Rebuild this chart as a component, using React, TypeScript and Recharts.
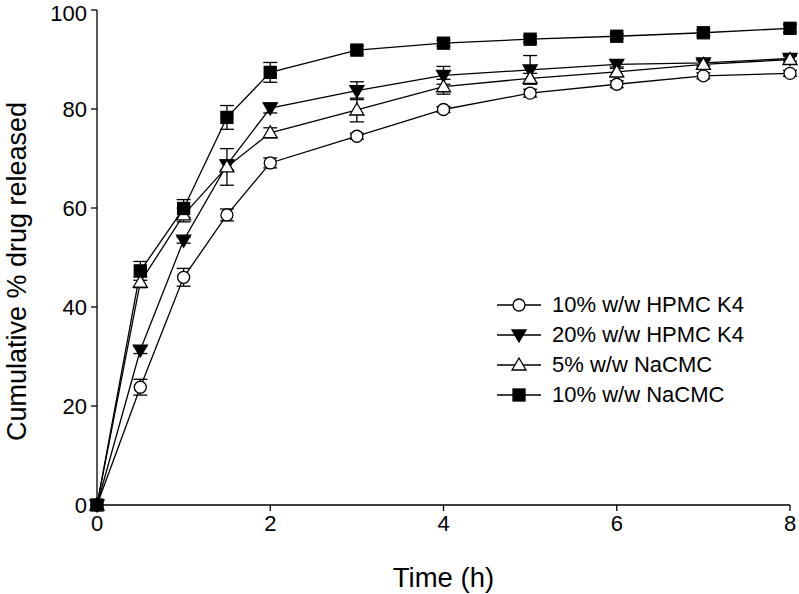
import React from 'react';
import { LineChart, Line, XAxis, YAxis, ErrorBar, Legend, Label } from 'recharts';

const times = [0, 0.5, 1, 1.5, 2, 3, 4, 5, 6, 7, 8];
const seriesNames = ['10% w/w HPMC K4', '20% w/w HPMC K4', '5% w/w NaCMC', '10% w/w NaCMC'];
const hpmc10 = [0, 23.8, 46.0, 58.6, 69.1, 74.5, 79.9, 83.2, 85.0, 86.7, 87.2];
const hpmc10Err = [0, 1.6, 1.8, 1.2, 1.0, 0.6, 0.6, 0.8, 0.7, 0.6, 0.6];
const hpmc20 = [0, 31.3, 53.5, 68.7, 80.2, 83.7, 86.8, 87.9, 89.0, 89.3, 90.2];
const hpmc20Err = [0, 0.7, 0.6, 1.0, 1.0, 1.8, 1.8, 2.9, 0.8, 0.6, 0.5];
const naCmc5 = [0, 45.0, 58.6, 68.3, 75.2, 79.8, 84.5, 86.2, 87.5, 89.0, 90.0];
const naCmc5Err = [0, 1.1, 1.4, 3.7, 1.0, 2.4, 1.5, 1.0, 1.0, 0.8, 0.8];
const naCmc10 = [0, 47.3, 59.9, 78.3, 87.4, 91.9, 93.3, 94.1, 94.7, 95.4, 96.3];
const naCmc10Err = [0, 1.9, 1.8, 2.4, 2.0, 0.8, 0.6, 0.6, 0.5, 0.6, 0.8];
const xTicks = [0, 2, 4, 6, 8];
const yTicks = [0, 20, 40, 60, 80, 100];
const xTitle = 'Time (h)';
const yTitle = 'Cumulative % drug released';

const data = times.map((t, i) => ({
  t,
  a: hpmc10[i], aErr: hpmc10Err[i],
  b: hpmc20[i], bErr: hpmc20Err[i],
  c: naCmc5[i], cErr: naCmc5Err[i],
  d: naCmc10[i], dErr: naCmc10Err[i],
}));

const FONT = '"Liberation Sans", Arial, sans-serif';
const SW = 1.3;

function Marker({ kind, cx, cy }: { kind: string; cx: number; cy: number }) {
  if (kind === 'circle') {
    return <circle cx={cx} cy={cy} r={6} fill="#fff" stroke="#000" strokeWidth={SW} />;
  }
  if (kind === 'down') {
    return (
      <polygon
        points={`${cx - 7},${cy - 5} ${cx + 7},${cy - 5} ${cx},${cy + 7}`}
        fill="#000" stroke="#000" strokeWidth={SW}
      />
    );
  }
  if (kind === 'up') {
    return (
      <polygon
        points={`${cx},${cy - 7} ${cx - 7},${cy + 5} ${cx + 7},${cy + 5}`}
        fill="#fff" stroke="#000" strokeWidth={SW}
      />
    );
  }
  return <rect x={cx - 6} y={cy - 6} width={12} height={12} fill="#000" stroke="#000" strokeWidth={SW} />;
}

const kinds = ['circle', 'down', 'up', 'square'];

const makeDot = (kind: string) => (props: any) => {
  const { cx, cy, index } = props;
  if (cx == null || cy == null) return <g key={`${kind}-${index}`} />;
  return (
    <g key={`${kind}-${index}`}>
      <Marker kind={kind} cx={cx} cy={cy} />
    </g>
  );
};

const LegendContent = () => (
  <div style={{ fontFamily: FONT, fontSize: 22, color: '#000' }}>
    {seriesNames.map((name, i) => (
      <div key={name} style={{ display: 'flex', alignItems: 'center', height: 30 }}>
        <svg width={44} height={30} style={{ display: 'block' }}>
          <line x1={0} y1={15} x2={44} y2={15} stroke="#000" strokeWidth={SW} />
          <Marker kind={kinds[i]} cx={22} cy={15} />
        </svg>
        <span style={{ marginLeft: 11, lineHeight: '30px' }}>{name}</span>
      </div>
    ))}
  </div>
);

const YTitle = (props: any) => {
  const vb = props.viewBox || {};
  const x = (vb.x ?? 37) + 60 - 71;
  const y = (vb.y ?? 10) + (vb.height ?? 495) / 2 + 14;
  return (
    <text
      x={x}
      y={y}
      transform={`rotate(-90, ${x}, ${y})`}
      textAnchor="middle"
      style={{ fontSize: 27, fill: '#000', fontFamily: FONT }}
    >
      {yTitle}
    </text>
  );
};

export default function App() {
  const tickStyle = { fontSize: 22, fill: '#000', fontFamily: FONT };
  return (
    <div style={{ position: 'absolute', left: 0, top: 0, background: '#fff' }}>
      <LineChart
        width={799}
        height={594}
        data={data}
        margin={{ top: 10, right: 9, bottom: 5, left: 37 }}
        style={{ fontFamily: FONT }}
      >
        <XAxis
          dataKey="t"
          type="number"
          domain={[0, 8]}
          ticks={xTicks}
          height={84}
          tickSize={6}
          tickMargin={4}
          tick={tickStyle}
          axisLine={{ stroke: '#000', strokeWidth: SW }}
          tickLine={{ stroke: '#000', strokeWidth: SW }}
        >
          <Label
            value={xTitle}
            position="insideBottom"
            offset={2}
            style={{ fontSize: 27.5, fill: '#000', fontFamily: FONT }}
          />
        </XAxis>
        <YAxis
          type="number"
          domain={[0, 100]}
          ticks={yTicks}
          width={60}
          tickSize={6}
          tickMargin={4}
          tick={tickStyle}
          axisLine={{ stroke: '#000', strokeWidth: SW }}
          tickLine={{ stroke: '#000', strokeWidth: SW }}
        >
          <Label content={<YTitle />} />
        </YAxis>
        <Legend
          layout="vertical"
          align="center"
          verticalAlign="middle"
          content={<LegendContent />}
          wrapperStyle={{ left: 497, top: 290, width: 280 }}
        />
        <Line dataKey="a" name={seriesNames[0]} stroke="#000" strokeWidth={SW} isAnimationActive={false} dot={makeDot('circle')} activeDot={false}>
          <ErrorBar dataKey="aErr" direction="y" width={7} stroke="#000" strokeWidth={SW} isAnimationActive={false} />
        </Line>
        <Line dataKey="b" name={seriesNames[1]} stroke="#000" strokeWidth={SW} isAnimationActive={false} dot={makeDot('down')} activeDot={false}>
          <ErrorBar dataKey="bErr" direction="y" width={7} stroke="#000" strokeWidth={SW} isAnimationActive={false} />
        </Line>
        <Line dataKey="c" name={seriesNames[2]} stroke="#000" strokeWidth={SW} isAnimationActive={false} dot={makeDot('up')} activeDot={false}>
          <ErrorBar dataKey="cErr" direction="y" width={7} stroke="#000" strokeWidth={SW} isAnimationActive={false} />
        </Line>
        <Line dataKey="d" name={seriesNames[3]} stroke="#000" strokeWidth={SW} isAnimationActive={false} dot={makeDot('square')} activeDot={false}>
          <ErrorBar dataKey="dErr" direction="y" width={7} stroke="#000" strokeWidth={SW} isAnimationActive={false} />
        </Line>
      </LineChart>
    </div>
  );
}
